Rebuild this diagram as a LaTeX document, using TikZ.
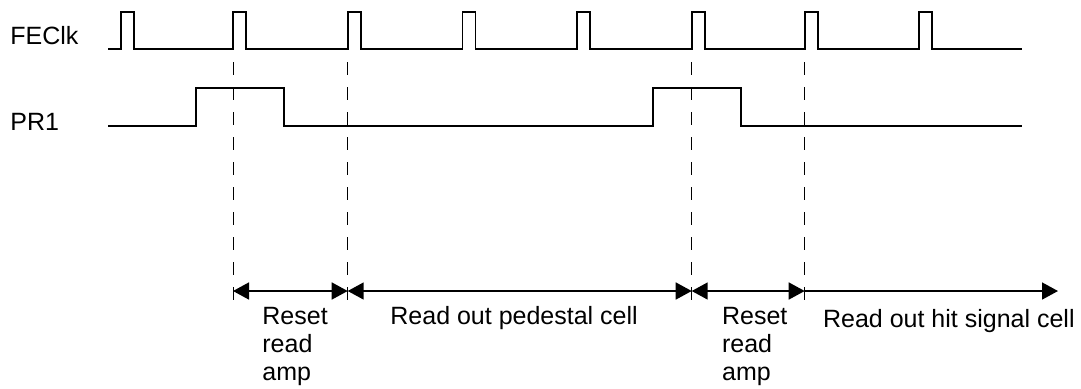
\documentclass[tikz,border=0pt]{standalone}
\usepackage{fontspec}
\setmainfont{Liberation Sans}
\usetikzlibrary{arrows.meta}
\tikzset{
  wave/.style={line width=0.8pt},
  guide/.style={line width=0.5pt, dash pattern=on 6.5pt off 6pt},
  span/.style={line width=0.8pt},
  wedge/.tip={Triangle[length=8pt, width=8.5pt]},
  lbl/.style={font=\fontsize{12.5}{14}\selectfont, inner sep=0pt},
}

\begin{document}
\begin{tikzpicture}[x=0.5pt, y=-0.5pt]
				\useasboundingbox (0, 0) rectangle (1081, 388);
				
				\node[lbl, anchor=west] (fe) at (10, 36) {FEClk};
				\node[lbl, anchor=west] (pr) at (10, 122) {PR1};
				
				\draw[wave] (108, 49) \foreach \x in {120.7, 233, 347.7, 462.3, 576.7, 691.7, 804.7, 919} { -- (\x, 49) -- (\x, 12) -- (\x+13, 12) -- (\x+13, 49) } -- (1022, 49);
				\draw[wave] (108, 126) -- (196, 126) -- (196, 88) -- (284, 88) -- (284, 126) -- (653, 126) -- (653, 88) -- (741, 88) -- (741, 126) -- (1022, 126);
				
				\coordinate (m1) at (233, 291);
				\coordinate (m2) at (347.7, 291);
				\coordinate (m3) at (691.7, 291);
				\coordinate (m4) at (804.7, 291);
				\coordinate (m5) at (1058, 291);
				\foreach \m in {m1, m2, m3, m4}
					\draw[guide] (\m) ++(0, -229) -- ++(0, 240);
				
				\draw[span, wedge-wedge] (m1) -- (m2);
				\draw[span, wedge-wedge] (m2) -- (m3);
				\draw[span, wedge-wedge] (m3) -- (m4);
				\draw[span, -wedge] (m4) -- (m5);
				
				\node[lbl, anchor=north west, align=left] (reset1) at (262, 306.5) {Reset\\read\\amp};
				\node[lbl, anchor=base west] (ped) at (390, 324) {Read out pedestal cell};
				\node[lbl, anchor=north west, align=left] (reset2) at (721.7, 306.5) {Reset\\read\\amp};
				\node[lbl, anchor=base west] (hit) at (822.7, 327.3) {Read out hit signal cell};
			\end{tikzpicture}
\end{document}
